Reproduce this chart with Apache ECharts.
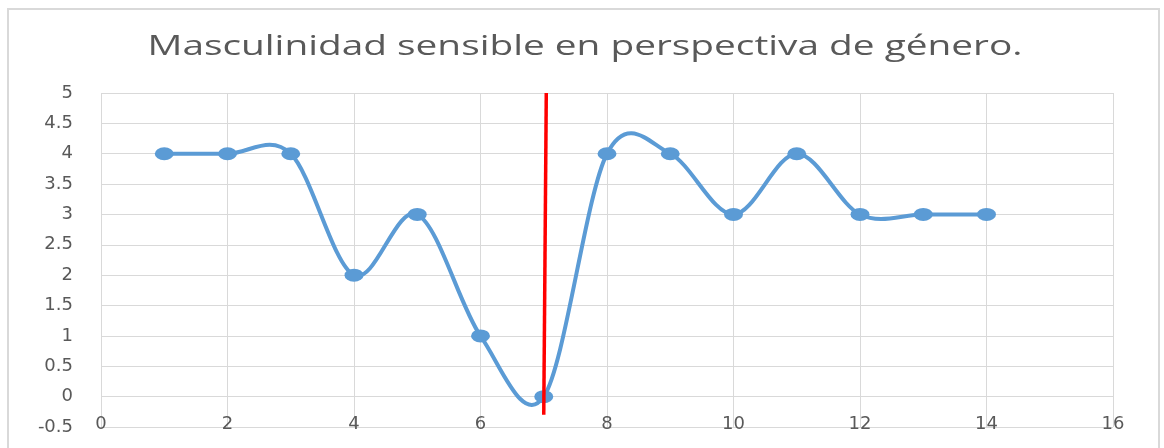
<!DOCTYPE html>
<html>
<head>
<meta charset="utf-8">
<script src="https://cdn.jsdelivr.net/npm/echarts@6/dist/echarts.min.js"></script>
<style>
html,body{margin:0;padding:0;background:#fff;}
#frame{position:absolute;left:7px;top:8px;width:1153px;height:450px;border:2px solid #d9d9d9;box-sizing:border-box;}
#chart{position:absolute;left:0;top:0;width:1164px;height:448px;}
</style>
</head>
<body>
<div id="frame"></div>
<div id="chart"></div>
<script>
const titleText = "Masculinidad sensible en perspectiva de género.";
const xValues = [1, 2, 3, 4, 5, 6, 7, 8, 9, 10, 11, 12, 13, 14];
const yValues = [4, 4, 4, 2, 3, 1, 0, 4, 4, 3, 4, 3, 3, 3];
const redLineX = [7.04, 7.0];
const redLineY = [5, -0.3];

const points = xValues.map((x, i) => [x, yValues[i]]);

// measure title to stretch it to the reference width
const titleFont = 'normal 28px "Open Sans"';
const mctx = document.createElement('canvas').getContext('2d');
mctx.font = titleFont;
const titleScale = 875 / mctx.measureText(titleText).width;

function renderCurve(params, api) {
  if (params.dataIndex !== 0) return null;
  const p = points.map(pt => api.coord(pt));
  const n = p.length;
  let d = 'M' + p[0][0] + ' ' + p[0][1];
  for (let i = 0; i < n - 1; i++) {
    const p0 = p[Math.max(i - 1, 0)], p1 = p[i], p2 = p[i + 1], p3 = p[Math.min(i + 2, n - 1)];
    const c1x = p1[0] + (p2[0] - p0[0]) / 6, c1y = p1[1] + (p2[1] - p0[1]) / 6;
    const c2x = p2[0] - (p3[0] - p1[0]) / 6, c2y = p2[1] - (p3[1] - p1[1]) / 6;
    d += ' C' + c1x + ' ' + c1y + ' ' + c2x + ' ' + c2y + ' ' + p2[0] + ' ' + p2[1];
  }
  return {
    type: 'path',
    shape: {pathData: d},
    style: {fill: null, stroke: '#5b9bd5', lineWidth: 4, lineJoin: 'round', lineCap: 'round'}
  };
}

const chart = echarts.init(document.getElementById('chart'), null, {renderer: 'canvas'});
const option = {
  backgroundColor: 'transparent',
  animation: false,
  graphic: [{
    type: 'text',
    x: 585, y: 47,
    scaleX: titleScale,
    style: {text: titleText, font: titleFont, fill: '#595959', align: 'center', verticalAlign: 'middle'}
  }],
  grid: {left: 101, right: 51, top: 93, bottom: 21, containLabel: false},
  xAxis: {
    type: 'value', min: 0, max: 16, interval: 2,
    axisLine: {show: false}, axisTick: {show: false},
    splitLine: {show: true, lineStyle: {color: '#d9d9d9', width: 1}},
    axisLabel: {margin: -12, color: '#595959', fontSize: 18, fontFamily: 'DejaVu Sans'}
  },
  yAxis: {
    type: 'value', min: -0.5, max: 5, interval: 0.5,
    axisLine: {show: false}, axisTick: {show: false},
    splitLine: {show: true, lineStyle: {color: '#d9d9d9', width: 1}},
    axisLabel: {margin: 28, color: '#595959', fontSize: 18, fontFamily: 'DejaVu Sans'}
  },
  series: [
    {
      type: 'custom',
      data: points,
      renderItem: renderCurve,
      z: 2
    },
    {
      type: 'scatter',
      data: points,
      symbol: 'circle',
      symbolSize: [19, 13],
      itemStyle: {color: '#5b9bd5', opacity: 1},
      z: 3
    },
    {
      type: 'line',
      data: redLineX.map((x, i) => [x, redLineY[i]]),
      symbol: 'none',
      lineStyle: {color: '#ff0000', width: 3.5},
      z: 5
    }
  ]
};
chart.setOption(option);
</script>
</body>
</html>
